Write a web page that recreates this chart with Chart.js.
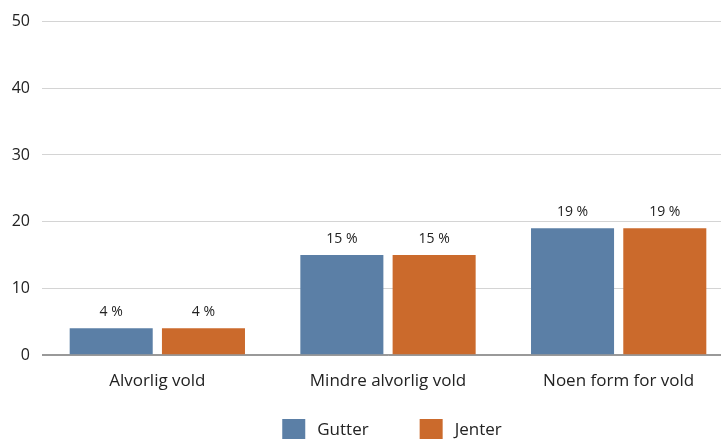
<!DOCTYPE html>
<html>
<head>
<meta charset="utf-8">
<script src="https://cdn.jsdelivr.net/npm/chart.js@4"></script>
<style>
  html, body { margin: 0; padding: 0; background: #fff; overflow: hidden; }
  #wrap { width: 734px; height: 439px; }
</style>
</head>
<body>
<div id="wrap"><canvas id="c" width="734" height="439"></canvas></div>
<script>
const categories = ['Alvorlig vold', 'Mindre alvorlig vold', 'Noen form for vold'];
const gutter = [4, 15, 19];
const jenter = [4, 15, 19];
const yTicks = [0, 10, 20, 30, 40, 50];

const FONT = '"Open Sans", "Noto Sans", sans-serif';
const TEXT = '#222';

// Writes "N %" above each bar
const valueLabels = {
  id: 'valueLabels',
  afterDatasetsDraw(chart) {
    const ctx = chart.ctx;
    ctx.save();
    ctx.font = '14px ' + FONT;
    ctx.fillStyle = TEXT;
    ctx.textAlign = 'center';
    ctx.textBaseline = 'bottom';
    chart.data.datasets.forEach((ds, i) => {
      chart.getDatasetMeta(i).data.forEach((bar, j) => {
        ctx.fillText(ds.data[j] + ' %', bar.x, bar.y - 9);
      });
    });
    ctx.restore();
  }
};

// Legend row under the axis labels, centred on the plot area
const bottomLegend = {
  id: 'bottomLegend',
  afterDraw(chart) {
    const ctx = chart.ctx;
    const area = chart.chartArea;
    const box = 23, boxH = 20, textGap = 12, itemGap = 51;
    ctx.save();
    ctx.font = '17px ' + FONT;
    const items = chart.data.datasets.map(ds => ({
      label: ds.label, color: ds.backgroundColor, w: ctx.measureText(ds.label).width
    }));
    const total = items.reduce((s, it) => s + box + textGap + it.w, 0) + itemGap * (items.length - 1);
    let x = (area.left + area.right) / 2 - total / 2 + 4;
    const yTop = 419, yMid = yTop + boxH / 2 + 1;
    ctx.textBaseline = 'middle';
    ctx.textAlign = 'left';
    items.forEach(it => {
      ctx.fillStyle = it.color;
      ctx.fillRect(x, yTop, box, boxH);
      ctx.fillStyle = TEXT;
      ctx.fillText(it.label, x + box + textGap, yMid);
      x += box + textGap + it.w + itemGap;
    });
    ctx.restore();
  }
};

new Chart(document.getElementById('c'), {
  type: 'bar',
  data: {
    labels: categories,
    datasets: [
      { label: 'Gutter', data: gutter, backgroundColor: '#5b7fa6' },
      { label: 'Jenter', data: jenter, backgroundColor: '#cb6a2c' }
    ]
  },
  options: {
    responsive: false,
    animation: false,
    devicePixelRatio: 1,
    layout: { padding: { top: 8, right: 0, bottom: 0, left: 0 } },
    categoryPercentage: 0.8,
    barPercentage: 0.9,
    plugins: {
      tooltip: { enabled: false },
      legend: { display: false }
    },
    scales: {
      x: {
        grid: { display: false, drawTicks: false },
        border: { display: true, color: '#999', width: 1 },
        ticks: { color: TEXT, font: { family: FONT, size: 17 }, padding: 16 },
        afterFit(scale) { scale.height = 84; }
      },
      y: {
        min: 0,
        max: 50,
        afterBuildTicks(scale) { scale.ticks = yTicks.map(v => ({ value: v })); },
        grid: {
          drawTicks: false,
          color: ctx => ctx.tick && ctx.tick.value === 0 ? '#999' : '#d4d4d4',
          lineWidth: ctx => ctx.tick && ctx.tick.value === 0 ? 1.5 : 1
        },
        border: { display: false },
        ticks: { color: TEXT, font: { family: FONT, size: 16 }, padding: 12 },
        afterFit(scale) { scale.width = 42; }
      }
    }
  },
  plugins: [valueLabels, bottomLegend]
});
</script>
</body>
</html>
